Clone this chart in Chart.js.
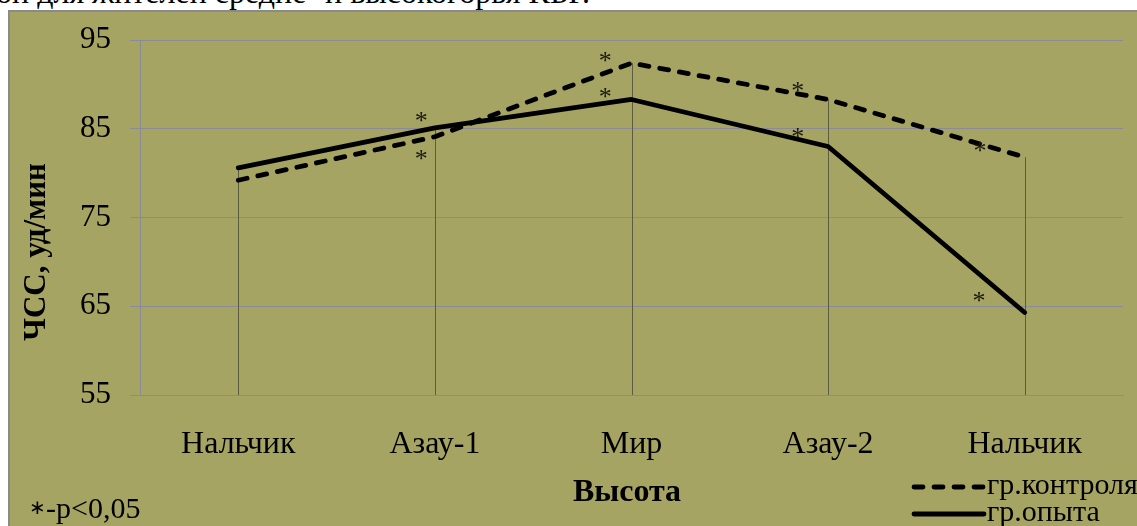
<!DOCTYPE html>
<html>
<head>
<meta charset="utf-8">
<script src="https://cdn.jsdelivr.net/npm/chart.js@4"></script>
<style>
  html, body { margin: 0; padding: 0; background: #fff; width: 1137px; height: 526px; overflow: hidden; position: relative; }
  #caption { position: absolute; left: -4px; top: -24px; font-size: 32px; line-height: 32px;
             font-family: "Liberation Serif", "Times New Roman", serif; color: #000; white-space: nowrap; }
  #frame { position: absolute; left: 8px; top: 10px; width: 1129px; height: 516px;
           border-left: 2px solid #8a8a8a; border-top: 2px solid #8a8a8a; background: #a6a463; }
  #frame canvas { position: absolute; left: 0; top: 0; }
</style>
</head>
<body>
<div id="caption">он для жителей средне- и высокогорья КБР.</div>
<div id="frame"><canvas id="c" width="1127" height="514"></canvas></div>
<script>
// Heart rate (beats/min) at each altitude point
const categories = ['Нальчик', 'Азау-1', 'Мир', 'Азау-2', 'Нальчик'];
const controlHR = [79.2, 84.1, 92.4, 88.3, 81.8];
const experimentHR = [80.6, 85.1, 88.3, 83.0, 64.3];
const yTicks = [55, 65, 75, 85, 95];

// Significance marks (*): position along the category axis and HR level
const markPos = [0.93, 0.93, 1.867, 1.867, 2.845, 2.845, 3.773, 3.768];
const markVal = [86.3, 82.0, 93.1, 89.0, 89.7, 84.5, 82.9, 66.0];

const seriesNames = ['гр.контроля', 'гр.опыта'];
const xTitle = 'Высота';
const yTitle = 'ЧСС, уд/мин';
const noteMark = '∗';
const noteText = '-p<0,05';

const SERIF = '"Liberation Serif", "Times New Roman", serif';
const INK = '#000';

// vertical drop lines from the highest point of each category down to the axis
const dropLines = {
  id: 'dropLines',
  beforeDatasetsDraw(chart) {
    const { ctx, chartArea, scales: { x, y } } = chart;
    ctx.save();
    ctx.strokeStyle = '#5c5c40';
    ctx.lineWidth = 1;
    categories.forEach((_, i) => {
      const top = Math.max(controlHR[i], experimentHR[i]);
      const px = Math.round(x.getPixelForValue(i)) + 0.5;
      ctx.beginPath();
      ctx.moveTo(px, y.getPixelForValue(top));
      ctx.lineTo(px, chartArea.bottom);
      ctx.stroke();
    });
    ctx.restore();
  }
};

// asterisks next to significant points
const marks = {
  id: 'marks',
  afterDatasetsDraw(chart) {
    const { ctx, scales: { x, y } } = chart;
    ctx.save();
    ctx.fillStyle = '#1a1a10';
    ctx.font = '26px ' + SERIF;
    ctx.textAlign = 'center';
    ctx.textBaseline = 'alphabetic';
    const m = ctx.measureText('*');
    const shift = (m.actualBoundingBoxAscent - m.actualBoundingBoxDescent) / 2;
    markPos.forEach((p, k) => {
      ctx.fillText('*', x.getPixelForValue(p), y.getPixelForValue(markVal[k]) + shift);
    });
    ctx.restore();
  }
};

// axis titles, legend in the lower right corner and the significance note
const notes = {
  id: 'notes',
  afterDraw(chart) {
    const { ctx } = chart;
    const ds = chart.data.datasets;
    ctx.save();
    ctx.fillStyle = INK;
    ctx.textBaseline = 'middle';

    ctx.textAlign = 'center';
    ctx.font = 'bold 32px ' + SERIF;
    ctx.fillText(xTitle, 617, 481);
    ctx.save();
    ctx.translate(27, 240);
    ctx.rotate(-Math.PI / 2);
    ctx.font = 'bold 31px ' + SERIF;
    ctx.fillText(yTitle, 0, 0);
    ctx.restore();

    ctx.textAlign = 'left';
    ctx.font = '30px ' + SERIF;
    const rows = [474, 501];
    ds.forEach((d, i) => {
      ctx.beginPath();
      ctx.strokeStyle = d.borderColor;
      ctx.lineWidth = d.borderWidth;
      ctx.lineCap = 'round';
      ctx.setLineDash(d.borderDash || []);
      ctx.moveTo(904, rows[i] + 1);
      ctx.lineTo(974, rows[i] + 1);
      ctx.stroke();
      ctx.setLineDash([]);
      ctx.fillText(d.label, 977, rows[i]);
    });

    // significance note: centred asterisk followed by the threshold
    ctx.font = '20px ' + SERIF;
    ctx.fillText(noteMark, 19, 497);
    ctx.font = '30px ' + SERIF;
    ctx.fillText(noteText, 36, 498);
    ctx.restore();
  }
};

new Chart(document.getElementById('c'), {
  type: 'line',
  data: {
    labels: categories,
    datasets: [
      {
        label: seriesNames[0],
        data: controlHR,
        borderColor: '#000',
        borderWidth: 4.8,
        borderDash: [9, 11],
        borderCapStyle: 'round',
        borderJoinStyle: 'round',
        pointRadius: 0,
        tension: 0,
        fill: false
      },
      {
        label: seriesNames[1],
        data: experimentHR,
        borderColor: '#000',
        borderWidth: 4.8,
        borderCapStyle: 'round',
        borderJoinStyle: 'round',
        pointRadius: 0,
        tension: 0,
        fill: false
      }
    ]
  },
  options: {
    responsive: false,
    animation: false,
    devicePixelRatio: 1,
    layout: { padding: { left: 0, top: 28, right: 14, bottom: 0 } },
    plugins: { legend: { display: false }, tooltip: { enabled: false } },
    scales: {
      x: {
        offset: true,
        grid: { display: false },
        border: { display: true, color: '#8b8b98', width: 1 },
        ticks: { color: INK, font: { family: SERIF, size: 32 }, padding: 22, maxRotation: 0 },
        afterFit(s) { s.height = 131; s.paddingLeft = 0; s.paddingRight = 0; }
      },
      y: {
        min: 55, max: 95,
        afterBuildTicks(s) { s.ticks = yTicks.map(v => ({ value: v })); },
        grid: { color: '#8b8b98', lineWidth: 1, tickLength: 10, drawTicks: true },
        border: { display: true, color: '#8b8b98', width: 1 },
        ticks: { color: INK, font: { family: SERIF, size: 31 }, padding: 19 },
        afterFit(s) { s.width = 130; s.paddingTop = 0; s.paddingBottom = 0; }
      }
    }
  },
  plugins: [dropLines, marks, notes]
});
</script>
</body>
</html>
